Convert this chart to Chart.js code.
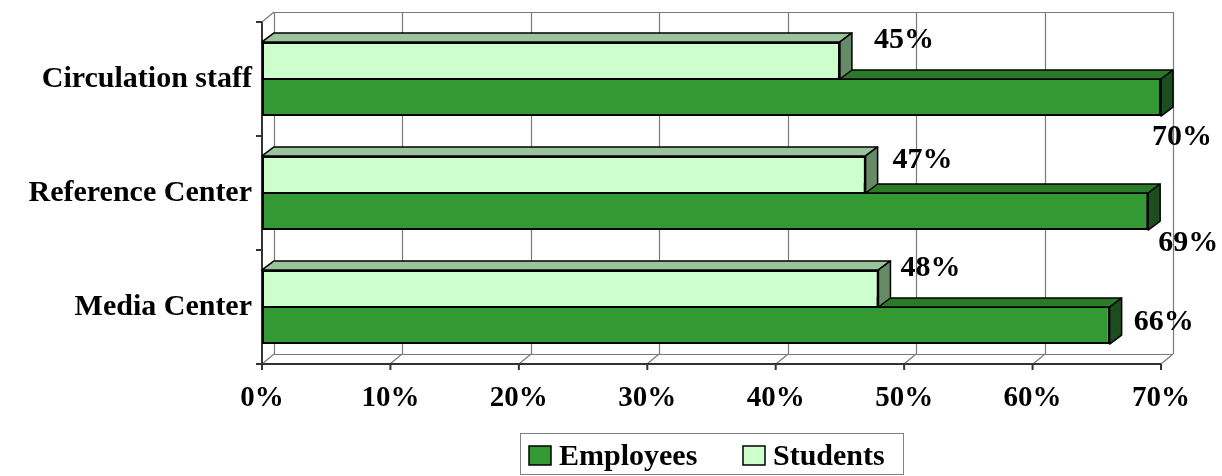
<!DOCTYPE html>
<html>
<head>
<meta charset="utf-8">
<script src="https://cdn.jsdelivr.net/npm/chart.js@4.4.1/dist/chart.umd.min.js"></script>
<style>
  html, body { margin: 0; padding: 0; background: #fff; }
  #wrap { width: 1222px; height: 476px; }
</style>
</head>
<body>
<div id="wrap"><canvas id="myChart" width="1222" height="476"></canvas></div>
<script>
const categories = ['Circulation staff', 'Reference Center', 'Media Center'];
const studentValues = [45, 47, 48];
const employeeValues = [70, 69, 66];
const xTicks = [0, 10, 20, 30, 40, 50, 60, 70];

const ctx = document.getElementById('myChart');
const FONT = '"Liberation Serif", "Times New Roman", serif';
const DX = 12, DY = 10;   // wall depth
const BDX = 12, BDY = 9;  // bar depth

// dataset 0 = students (upper bar), dataset 1 = employees
const faceColors = [
    {front: '#ccffcc', top: '#9cc49c', side: '#678a67'},
    {front: '#339933', top: '#2a7a2a', side: '#1c4d1c'}
];

function line(c, x1, y1, x2, y2) {
    c.beginPath();
    c.moveTo(x1, y1);
    c.lineTo(x2, y2);
    c.stroke();
}

function poly(c, pts, fill) {
    c.beginPath();
    c.moveTo(pts[0][0], pts[0][1]);
    for (let i = 1; i < pts.length; i++) c.lineTo(pts[i][0], pts[i][1]);
    c.closePath();
    c.fillStyle = fill;
    c.fill();
    c.stroke();
}

const wall3d = {
    id: 'wall3d',
    beforeDatasetsDraw(chart) {
        const {ctx, chartArea: a, scales: {x}} = chart;
        ctx.save();
        ctx.strokeStyle = '#7a7a7a';
        ctx.lineWidth = 1.2;
        xTicks.forEach(t => {
            const px = Math.round(x.getPixelForValue(t));
            line(ctx, px + DX + 0.5, a.top - DY, px + DX + 0.5, a.bottom - DY);
            line(ctx, px, a.bottom, px + DX, a.bottom - DY);
        });
        line(ctx, a.left + DX, a.top - DY + 0.5, a.right + DX, a.top - DY + 0.5);
        line(ctx, a.left + DX, a.bottom - DY + 0.5, a.right + DX, a.bottom - DY + 0.5);
        line(ctx, a.left, a.top, a.left + DX, a.top - DY);

        // front axes
        ctx.strokeStyle = '#333';
        ctx.lineWidth = 2;
        line(ctx, a.left, a.top, a.left, a.bottom + 1);
        line(ctx, a.left - 6, a.bottom, a.right, a.bottom);
        const band = a.height / categories.length;
        for (let i = 0; i < categories.length; i++) {
            line(ctx, a.left - 6, a.top + i * band, a.left, a.top + i * band);
        }
        xTicks.forEach(t => {
            const px = x.getPixelForValue(t);
            line(ctx, px, a.bottom, px, a.bottom + 6);
        });
        ctx.restore();
    }
};

const bars3d = {
    id: 'bars3d',
    beforeDatasetsDraw(chart) {
        const {ctx} = chart;
        ctx.save();
        ctx.lineWidth = 1.5;
        ctx.strokeStyle = '#000';
        ctx.lineJoin = 'round';
        [1, 0].forEach(di => {
            chart.getDatasetMeta(di).data.forEach(bar => {
                const {x, y, base, height} = bar.getProps(['x', 'y', 'base', 'height'], true);
                const top = y - height / 2, bottom = y + height / 2;
                poly(ctx, [[base, top], [base + BDX, top - BDY], [x + BDX, top - BDY], [x, top]], faceColors[di].top);
                poly(ctx, [[x, top], [x + BDX, top - BDY], [x + BDX, bottom - BDY], [x, bottom]], faceColors[di].side);
            });
        });
        ctx.restore();
    }
};

// label offsets from bar end / bar centre, as placed in the original
const labelNudge = [
    [[64, -20], [57, -14], [52, -20]],
    [[21, 40], [40, 32], [54, -3]]
];

const barLabels = {
    id: 'barLabels',
    afterDatasetsDraw(chart) {
        const {ctx} = chart;
        ctx.save();
        ctx.font = 'bold 30px ' + FONT;
        ctx.fillStyle = '#000';
        ctx.textAlign = 'center';
        ctx.textBaseline = 'middle';
        chart.data.datasets.forEach((ds, di) => {
            chart.getDatasetMeta(di).data.forEach((bar, i) => {
                const {x, y} = bar.getProps(['x', 'y'], true);
                const n = labelNudge[di][i];
                ctx.fillText(ds.data[i] + '%', x + n[0], y + n[1]);
            });
        });
        ctx.restore();
    }
};

const boxLegend = {
    id: 'boxLegend',
    afterDraw(chart) {
        const {ctx} = chart;
        ctx.save();
        ctx.strokeStyle = '#808080';
        ctx.lineWidth = 1;
        ctx.strokeRect(520.5, 433.5, 383, 41);
        ctx.font = 'bold 30px ' + FONT;
        ctx.textBaseline = 'alphabetic';
        ctx.textAlign = 'left';
        const items = [
            {ds: chart.data.datasets[1], x: 529},
            {ds: chart.data.datasets[0], x: 743}
        ];
        items.forEach(it => {
            ctx.fillStyle = it.ds.backgroundColor;
            ctx.fillRect(it.x, 446, 22, 19);
            ctx.strokeStyle = '#000';
            ctx.lineWidth = 1.5;
            ctx.strokeRect(it.x, 446, 22, 19);
            ctx.fillStyle = '#000';
            ctx.fillText(it.ds.label, it.x + 30, 465);
        });
        ctx.restore();
    }
};

new Chart(ctx, {
    type: 'bar',
    data: {
        labels: categories,
        datasets: [{
            label: 'Students',
            data: studentValues,
            backgroundColor: faceColors[0].front,
            borderColor: '#000',
            borderWidth: {top: 2, left: 2, right: 2, bottom: 1},
            borderSkipped: false,
            categoryPercentage: 0.65,
            barPercentage: 1.0
        }, {
            label: 'Employees',
            data: employeeValues,
            backgroundColor: faceColors[1].front,
            borderColor: '#000',
            borderWidth: {top: 1, left: 2, right: 2, bottom: 2},
            borderSkipped: false,
            categoryPercentage: 0.65,
            barPercentage: 1.0
        }]
    },
    plugins: [wall3d, bars3d, barLabels, boxLegend],
    options: {
        indexAxis: 'y',
        responsive: false,
        animation: false,
        devicePixelRatio: 1,
        layout: {padding: {top: 22, right: 61, left: 0, bottom: 0}},
        plugins: {
            legend: {display: false},
            tooltip: {enabled: false}
        },
        scales: {
            x: {
                min: 0,
                max: 70,
                grid: {display: false, drawTicks: false},
                border: {display: false},
                ticks: {
                    stepSize: 10,
                    padding: 17,
                    maxRotation: 0,
                    color: '#000',
                    font: {family: FONT, size: 29, weight: 'bold'},
                    callback: v => v + '%'
                },
                afterFit: s => { s.height = 112; }
            },
            y: {
                grid: {display: false, drawTicks: true, tickLength: 10},
                border: {display: false},
                ticks: {
                    padding: 0,
                    color: '#000',
                    font: {family: FONT, size: 30, weight: 'bold'}
                },
                afterFit: s => { s.width = 262; }
            }
        }
    }
});
</script>
</body>
</html>
